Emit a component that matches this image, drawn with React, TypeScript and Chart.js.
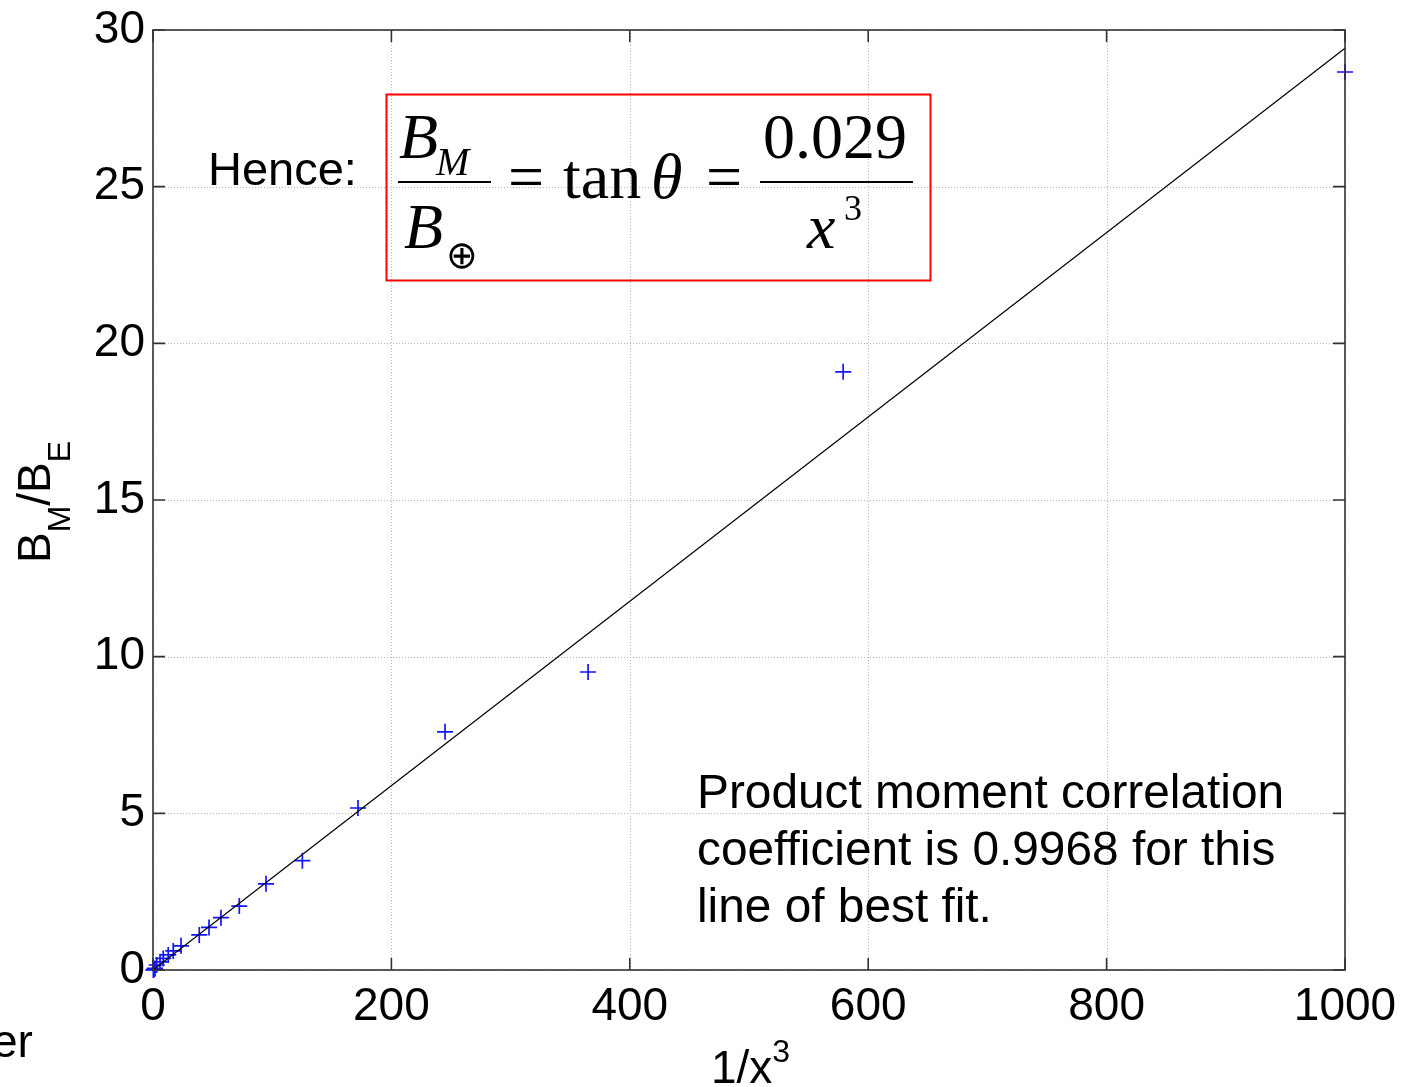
import { useEffect, useRef } from 'react';
import { Chart, registerables } from 'chart.js';

Chart.register(...registerables);

// Measured points: 1/x^3 against B_M/B_E
const invCubeX = [0.3, 0.8, 1.7, 3.1, 5.9, 8.6, 12.8, 17, 23.5, 38.8, 47, 57, 72.4, 94.8, 125.3, 172, 245, 365, 579, 1000];
const ratioY = [0.0, 0.02, 0.05, 0.16, 0.26, 0.37, 0.48, 0.61, 0.77, 1.12, 1.36, 1.67, 2.04, 2.75, 3.49, 5.17, 7.6, 9.51, 19.09, 28.66];

// Line of best fit
const fitX = [0, 1000];
const fitY = [0, 29.42];

const xTicks = [0, 200, 400, 600, 800, 1000];
const yTicks = [0, 5, 10, 15, 20, 25, 30];

const SANS = '"Liberation Sans", Arial, sans-serif';
const SERIF = '"Liberation Serif", "Times New Roman", serif';

const matlabAxes = {
  id: 'matlabAxes',
  beforeDatasetsDraw(chart: any) {
    const { ctx, chartArea: a, scales } = chart;
    ctx.save();
    ctx.strokeStyle = '#b4b4b4';
    ctx.lineWidth = 1;
    ctx.setLineDash([1, 2]);
    xTicks.forEach((v) => {
      const px = Math.round(scales.x.getPixelForValue(v)) + 0.5;
      ctx.beginPath();
      ctx.moveTo(px, a.top);
      ctx.lineTo(px, a.bottom);
      ctx.stroke();
    });
    yTicks.forEach((v) => {
      const py = Math.round(scales.y.getPixelForValue(v)) + 0.5;
      ctx.beginPath();
      ctx.moveTo(a.left, py);
      ctx.lineTo(a.right, py);
      ctx.stroke();
    });
    ctx.restore();
  },
  afterDatasetsDraw(chart: any) {
    const { ctx, chartArea: a, scales } = chart;
    ctx.save();
    ctx.strokeStyle = '#333';
    ctx.lineWidth = 1.6;
    ctx.setLineDash([]);
    ctx.strokeRect(a.left, a.top, a.right - a.left, a.bottom - a.top);
    const tl = 12;
    ctx.beginPath();
    xTicks.forEach((v) => {
      const px = scales.x.getPixelForValue(v);
      ctx.moveTo(px, a.bottom);
      ctx.lineTo(px, a.bottom - tl);
      ctx.moveTo(px, a.top);
      ctx.lineTo(px, a.top + tl);
    });
    yTicks.forEach((v) => {
      const py = scales.y.getPixelForValue(v);
      ctx.moveTo(a.left, py);
      ctx.lineTo(a.left + tl, py);
      ctx.moveTo(a.right, py);
      ctx.lineTo(a.right - tl, py);
    });
    ctx.stroke();
    ctx.restore();
  },
  afterDraw(chart: any) {
    const { ctx } = chart;
    ctx.save();
    ctx.fillStyle = '#000';
    ctx.textBaseline = 'alphabetic';
    ctx.textAlign = 'left';

    // Y axis title: B_M/B_E rotated
    ctx.save();
    ctx.translate(50, 563);
    ctx.rotate(-Math.PI / 2);
    let cx = 0;
    ctx.font = `46px ${SANS}`;
    ctx.fillText('B', cx, 0);
    cx += ctx.measureText('B').width;
    ctx.font = `32px ${SANS}`;
    ctx.fillText('M', cx, 20);
    cx += ctx.measureText('M').width;
    ctx.font = `46px ${SANS}`;
    ctx.fillText('/B', cx, 0);
    cx += ctx.measureText('/B').width;
    ctx.font = `32px ${SANS}`;
    ctx.fillText('E', cx, 20);
    ctx.restore();

    // X axis title: 1/x^3
    ctx.font = `46px ${SANS}`;
    ctx.fillText('1/x', 711, 1083);
    const w1 = ctx.measureText('1/x').width;
    ctx.font = `32px ${SANS}`;
    ctx.fillText('3', 711 + w1, 1062);

    // stray fragment at bottom left
    ctx.font = `46px ${SANS}`;
    ctx.fillText('er', -8, 1057);

    // Hence:
    ctx.font = `47px ${SANS}`;
    ctx.fillText('Hence:', 208, 185);

    // Formula box
    ctx.strokeStyle = '#ff0000';
    ctx.lineWidth = 2;
    ctx.strokeRect(386.5, 94.5, 544, 186);

    // Formula
    ctx.font = `italic 64px ${SERIF}`;
    ctx.fillText('B', 399, 158);
    ctx.font = `italic 40px ${SERIF}`;
    ctx.fillText('M', 436, 175);
    ctx.font = `italic 64px ${SERIF}`;
    ctx.fillText('B', 404, 248);
    ctx.font = `38px "DejaVu Sans", sans-serif`;
    ctx.fillText('\u2295', 446, 268);

    ctx.strokeStyle = '#000';
    ctx.lineWidth = 2.2;
    ctx.beginPath();
    ctx.moveTo(398, 182);
    ctx.lineTo(491, 182);
    ctx.moveTo(760, 182);
    ctx.lineTo(913, 182);
    ctx.stroke();

    ctx.font = `64px ${SERIF}`;
    ctx.fillText('=', 508, 198);
    ctx.fillText('tan', 563, 198);
    ctx.font = `italic 64px ${SERIF}`;
    ctx.fillText('\u03b8', 651, 198);
    ctx.font = `64px ${SERIF}`;
    ctx.fillText('=', 706, 198);
    ctx.fillText('0.029', 763, 158);
    ctx.font = `italic 64px ${SERIF}`;
    ctx.fillText('x', 807, 248);
    ctx.font = `36px ${SERIF}`;
    ctx.fillText('3', 844, 220);

    // Correlation note
    ctx.font = `47.8px ${SANS}`;
    ctx.fillText('Product moment correlation', 697, 808);
    ctx.fillText('coefficient is 0.9968 for this', 697, 865);
    ctx.fillText('line of best fit.', 697, 922);

    ctx.restore();
  },
};

export default function App() {
  const ref = useRef<HTMLCanvasElement | null>(null);

  useEffect(() => {
    const canvas = ref.current;
    if (!canvas) return;
    const chart = new Chart(canvas, {
      type: 'scatter',
      data: {
        datasets: [
          {
            label: 'fit',
            type: 'line',
            data: fitX.map((x, i) => ({ x, y: fitY[i] })),
            borderColor: '#000',
            borderWidth: 1.2,
            pointRadius: 0,
            fill: false,
            clip: false as any,
          } as any,
          {
            label: 'measured',
            data: invCubeX.map((x, i) => ({ x, y: ratioY[i] })),
            pointStyle: 'cross',
            pointRadius: 8,
            pointHoverRadius: 8,
            borderColor: 'rgb(20,20,255)',
            backgroundColor: 'rgb(20,20,255)',
            pointBorderWidth: 1.7,
            clip: false as any,
          } as any,
        ],
      },
      options: {
        responsive: false,
        animation: false,
        devicePixelRatio: 1,
        layout: { padding: { left: 0, top: 30, right: 58, bottom: 0 } },
        plugins: {
          legend: { display: false },
          tooltip: { enabled: false },
          title: { display: false },
        },
        events: [],
        scales: {
          x: {
            type: 'linear',
            min: 0,
            max: 1000,
            afterBuildTicks: (s: any) => {
              s.ticks = xTicks.map((v) => ({ value: v }));
            },
            afterFit: (s: any) => {
              s.height = 117;
              s.paddingLeft = 0;
              s.paddingRight = 0;
            },
            grid: { display: false, drawTicks: false },
            border: { display: false },
            ticks: {
              padding: 10,
              color: '#000',
              font: { family: SANS, size: 46 },
              maxRotation: 0,
              autoSkip: false,
              callback: (v: any) => String(v),
            },
          },
          y: {
            type: 'linear',
            min: 0,
            max: 30,
            afterBuildTicks: (s: any) => {
              s.ticks = yTicks.map((v) => ({ value: v }));
            },
            afterFit: (s: any) => {
              s.width = 153;
              s.paddingTop = 0;
              s.paddingBottom = 0;
            },
            grid: { display: false, drawTicks: false },
            border: { display: false },
            ticks: {
              padding: 8,
              color: '#000',
              font: { family: SANS, size: 46 },
              autoSkip: false,
              callback: (v: any) => String(v),
            },
          },
        },
      },
      plugins: [matlabAxes],
    } as any);
    return () => chart.destroy();
  }, []);

  return (
    <div style={{ position: 'fixed', left: 0, top: 0, width: 1403, height: 1087, background: '#fff' }}>
      <canvas ref={ref} width={1403} height={1087} style={{ display: 'block', width: 1403, height: 1087 }} />
    </div>
  );
}
